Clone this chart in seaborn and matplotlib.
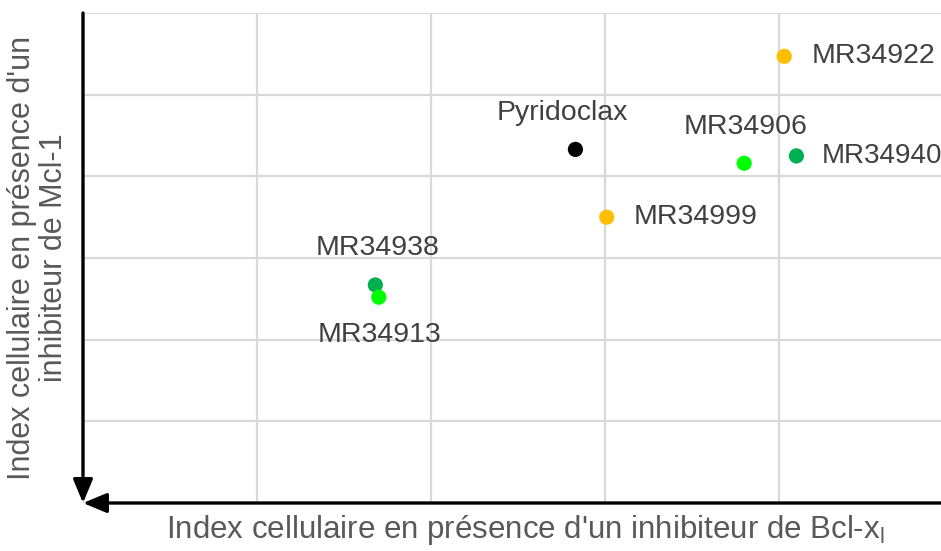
import matplotlib
matplotlib.use("Agg")
import matplotlib.pyplot as plt
import seaborn as sns
import pandas as pd

# Compound positions (cell index with Bcl-xL inhibitor vs. with Mcl-1 inhibitor)
compounds = ["Pyridoclax", "MR34922", "MR34906", "MR34940", "MR34999", "MR34938", "MR34913"]
bclxl_index = [2.83, 4.03, 3.80, 4.10, 3.01, 1.68, 1.70]
mcl1_index = [4.33, 5.47, 4.16, 4.25, 3.50, 2.67, 2.52]
groups = ["ref", "yellow", "lime", "green", "yellow", "green", "lime"]

palette = {"ref": "#000000", "yellow": "#FFBF00", "lime": "#00FF00", "green": "#00B050"}

df = pd.DataFrame({"compound": compounds, "x": bclxl_index, "y": mcl1_index, "group": groups})

sns.set_theme(style="white")
plt.rcParams["font.family"] = ["Liberation Sans", "DejaVu Sans"]
plt.rcParams["mathtext.fontset"] = "custom"
plt.rcParams["mathtext.rm"] = "Liberation Sans"
plt.rcParams["mathtext.it"] = "Liberation Sans"

fig = plt.figure(figsize=(9.41, 5.51), dpi=100)
ax = fig.add_axes([0.0882, 0.0871, 0.9118, 0.8893])

ax.set_xlim(0, 4.931)
ax.set_ylim(0, 6)
ax.set_xticks([0, 1, 2, 3, 4])
ax.set_yticks([0, 1, 2, 3, 4, 5, 6])
ax.grid(True, color="#D9D9D9", linewidth=1.6)
ax.tick_params(left=False, bottom=False, labelleft=False, labelbottom=False)
for s in ax.spines.values():
    s.set_visible(False)

sns.scatterplot(data=df, x="x", y="y", hue="group", palette=palette, s=120,
                edgecolor="none", legend=False, ax=ax, zorder=3, clip_on=False)

# Point labels: (ha, dx in points, dy in points, font size)
offsets = {
    "Pyridoclax": ("center", -9.4, 26, 20.5),
    "MR34922": ("left", 20, 0, 20.5),
    "MR34906": ("center", 0.7, 26, 20.5),
    "MR34940": ("left", 18.5, 0, 20),
    "MR34999": ("left", 19.5, 0, 20.5),
    "MR34938": ("center", 1.4, 26.6, 20.5),
    "MR34913": ("center", 0.7, -27.4, 20.5),
}
for name, xv, yv in zip(compounds, bclxl_index, mcl1_index):
    ha, dx, dy, fs = offsets[name]
    ax.annotate(name, (xv, yv), xytext=(dx, dy), textcoords="offset points",
                ha=ha, va="center", fontsize=fs, color="#404040", zorder=4)

# Axis arrows pointing toward the origin
arrow = dict(arrowstyle="-|>,head_length=1.2,head_width=0.5",
             color="black", lw=2.4, shrinkA=0, shrinkB=0)
ax.annotate("", xy=(0, 0), xytext=(0, 6), xycoords="data",
            arrowprops=arrow, annotation_clip=False, zorder=5)
ax.annotate("", xy=(0, 0), xytext=(4.931, 0), xycoords="data",
            arrowprops=arrow, annotation_clip=False, zorder=5)

fig.text(525 / 941, 1 - 530 / 551,
         "Index cellulaire en présence d'un inhibiteur de Bcl-x$_\\mathrm{l}$",
         ha="center", va="center", fontsize=22.5, color="#595959")
fig.text(38 / 941, 1 - 258 / 551,
         "Index cellulaire en présence d'un\ninhibiteur de Mcl-1",
         ha="center", va="center", rotation=90, fontsize=22, color="#595959",
         linespacing=1.05)

fig.savefig("out.png", dpi=100)
